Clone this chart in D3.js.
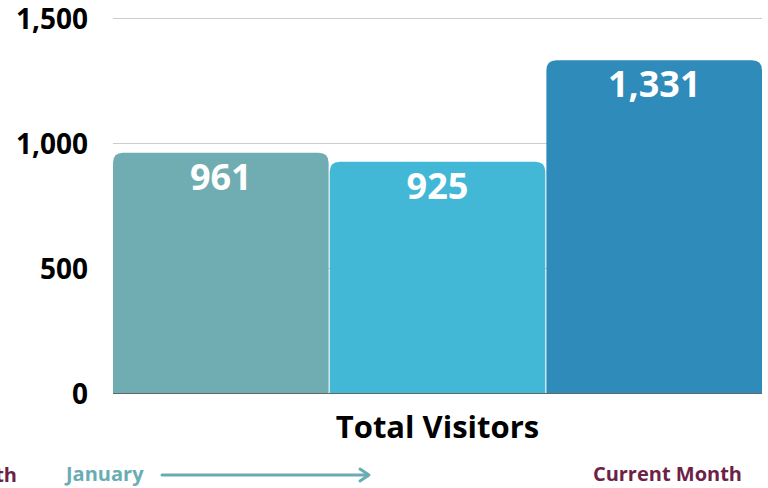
<!DOCTYPE html>
<html>
<head>
  <meta charset="utf-8">
  <script src="https://d3js.org/d3.v7.min.js"></script>
  <style type="text/css">
    body { margin: 0; background: #fff; }
    .tick-label { font-family: "Open Sans", sans-serif; font-weight: 700; font-size: 28px; fill: #000; }
    .bar-label { font-family: "Open Sans", sans-serif; font-weight: 700; font-size: 36px; fill: #fff; }
    .x-title { font-family: "Open Sans", sans-serif; font-weight: 700; font-size: 31px; fill: #000; }
    .footer { font-family: "Open Sans", sans-serif; font-weight: 700; font-size: 20px; }
  </style>
</head>
<body>
<script type="text/javascript">
  // data
  var categories = ["Previous Period", "January", "Current Month"];
  var values = [961, 925, 1331];
  var barColors = ["#6fadb3", "#42b8d6", "#2e8bba"];
  var yTicks = [0, 500, 1000, 1500];
  var footerLabels = ["Previous Month", "January", "Current Month"];

  var width = 768, height = 488;
  var margin = {left: 113, right: 6, top: 18, bottom: 95};

  var svg = d3.select("body").append("svg")
      .attr("width", width)
      .attr("height", height);

  var x = d3.scaleBand()
      .domain(categories)
      .range([margin.left, width - margin.right])
      .paddingInner(0.005);

  var y = d3.scaleLinear()
      .domain([0, 1500])
      .range([height - margin.bottom, margin.top]);

  // gridlines
  svg.selectAll(".grid")
      .data(yTicks.filter(function(d){ return d > 0; }))
      .enter().append("line")
      .attr("x1", margin.left)
      .attr("x2", width - margin.right)
      .attr("y1", function(d){ return y(d) + 0.5; })
      .attr("y2", function(d){ return y(d) + 0.5; })
      .attr("stroke", "#cccccc")
      .attr("stroke-width", 1);

  // y tick labels
  svg.selectAll(".tick-label")
      .data(yTicks)
      .enter().append("text")
      .attr("class", "tick-label")
      .attr("x", 88)
      .attr("y", function(d){ return y(d) + 11; })
      .attr("text-anchor", "end")
      .text(d3.format(","));

  // bars with rounded top corners
  var r = 10;
  function barPath(d, i) {
    var x0 = x(categories[i]), x1 = x0 + x.bandwidth();
    var y0 = y(d), yb = y(0);
    return "M" + x0 + "," + yb +
      "V" + (y0 + r) +
      "Q" + x0 + "," + y0 + " " + (x0 + r) + "," + y0 +
      "H" + (x1 - r) +
      "Q" + x1 + "," + y0 + " " + x1 + "," + (y0 + r) +
      "V" + yb + "Z";
  }

  svg.selectAll(".bar")
      .data(values)
      .enter().append("path")
      .attr("class", "bar")
      .attr("d", barPath)
      .attr("fill", function(d, i){ return barColors[i]; });

  svg.selectAll(".bar-label")
      .data(values)
      .enter().append("text")
      .attr("class", "bar-label")
      .attr("x", function(d, i){ return x(categories[i]) + x.bandwidth() / 2; })
      .attr("y", function(d){ return y(d) + 37; })
      .attr("text-anchor", "middle")
      .text(d3.format(","));

  // baseline
  svg.append("line")
      .attr("x1", margin.left)
      .attr("x2", width - margin.right)
      .attr("y1", y(0) + 0.5)
      .attr("y2", y(0) + 0.5)
      .attr("stroke", "#666")
      .attr("stroke-width", 1);

  // x title
  svg.append("text")
      .attr("class", "x-title")
      .attr("x", (margin.left + width - margin.right) / 2)
      .attr("y", 438)
      .attr("text-anchor", "middle")
      .text("Total Visitors");

  // footer
  svg.append("text")
      .attr("class", "footer")
      .attr("x", 17).attr("y", 482)
      .attr("text-anchor", "end")
      .attr("fill", "#6e2146")
      .text(footerLabels[0]);

  svg.append("text")
      .attr("class", "footer")
      .attr("x", 66).attr("y", 481)
      .attr("fill", "#6aacb3")
      .text(footerLabels[1]);

  svg.append("line")
      .attr("x1", 162).attr("x2", 368)
      .attr("y1", 475).attr("y2", 475)
      .attr("stroke", "#6aacb3")
      .attr("stroke-width", 3)
      .attr("stroke-linecap", "round");

  svg.append("path")
      .attr("d", "M360,469 L369,475 L360,481")
      .attr("fill", "none")
      .attr("stroke", "#6aacb3")
      .attr("stroke-width", 3)
      .attr("stroke-linecap", "round")
      .attr("stroke-linejoin", "round");

  svg.append("text")
      .attr("class", "footer")
      .attr("x", 742).attr("y", 481)
      .attr("text-anchor", "end")
      .attr("fill", "#6e2146")
      .text(footerLabels[2]);
</script>
</body>
</html>
